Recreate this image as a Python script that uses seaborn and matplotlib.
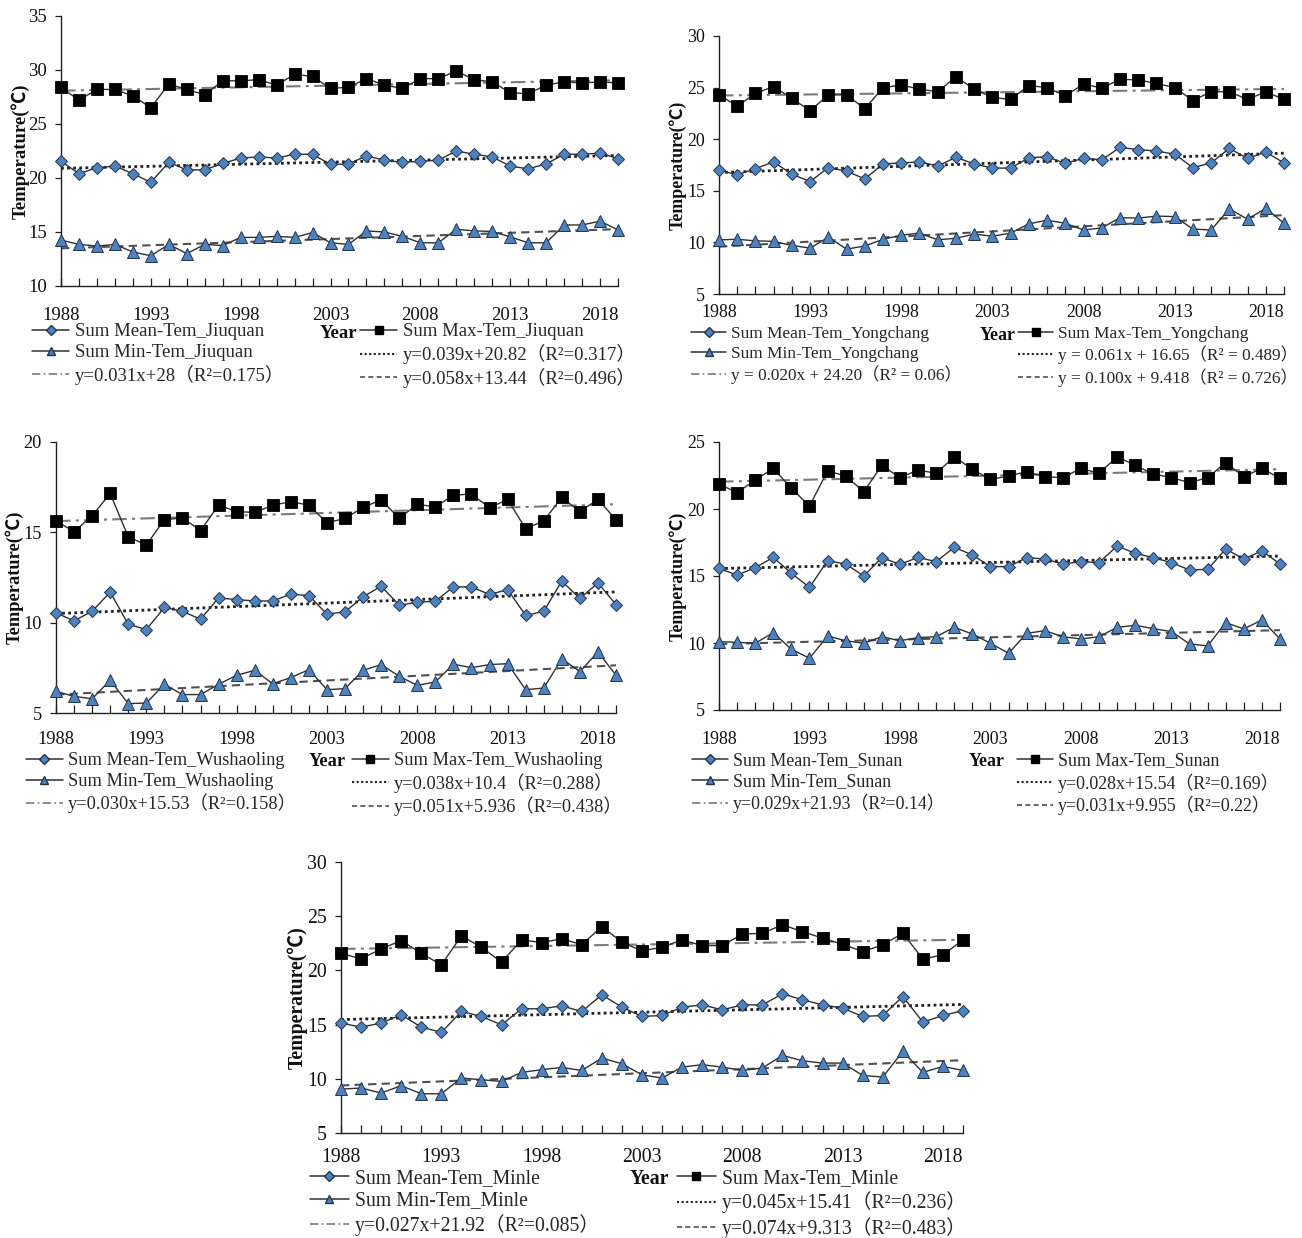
import matplotlib
matplotlib.use("Agg")
import matplotlib.pyplot as plt
import seaborn as sns
import numpy as np
from matplotlib.lines import Line2D

# ---------------- data ----------------
years = list(range(1988, 2020))
tick_years = [1988, 1993, 1998, 2003, 2008, 2013, 2018]

stations = ["Jiuquan", "Yongchang", "Wushaoling", "Sunan", "Minle"]

jiuquan_max = [28.4, 27.2, 28.2, 28.2, 27.6, 26.5, 28.7, 28.2, 27.7, 29.0, 29.0, 29.1, 28.6, 29.6, 29.4, 28.3,
               28.4, 29.2, 28.6, 28.3, 29.2, 29.2, 29.9, 29.1, 28.9, 27.9, 27.8, 28.6, 28.9, 28.8, 28.9, 28.8]
jiuquan_mean = [21.55, 20.4, 20.95, 21.1, 20.4, 19.6, 21.45, 20.75, 20.75, 21.35, 21.85, 21.95, 21.85, 22.2, 22.2, 21.25,
                21.3, 22.05, 21.65, 21.45, 21.55, 21.65, 22.5, 22.2, 21.95, 21.1, 20.85, 21.3, 22.2, 22.2, 22.3, 21.8]
jiuquan_min = [14.25, 13.85, 13.7, 13.85, 13.15, 12.8, 13.85, 13.0, 13.85, 13.75, 14.5, 14.5, 14.6, 14.5, 14.95, 14.0,
               13.85, 15.1, 15.0, 14.6, 14.0, 14.0, 15.25, 15.1, 15.05, 14.55, 14.0, 14.0, 15.65, 15.65, 16.0, 15.2]

yongchang_max = [24.3, 23.2, 24.45, 25.1, 23.95, 22.75, 24.3, 24.3, 22.95, 25.0, 25.25, 24.85, 24.6, 26.05, 24.85, 24.05,
                 23.85, 25.2, 25.0, 24.2, 25.35, 24.95, 25.8, 25.75, 25.4, 25.0, 23.75, 24.6, 24.6, 23.85, 24.6, 23.85]
yongchang_mean = [17.0, 16.55, 17.15, 17.8, 16.6, 15.9, 17.25, 16.9, 16.15, 17.6, 17.7, 17.8, 17.4, 18.25, 17.6, 17.2,
                  17.2, 18.2, 18.3, 17.65, 18.15, 18.0, 19.2, 19.0, 18.85, 18.55, 17.25, 17.7, 19.1, 18.15, 18.75, 17.7]
yongchang_min = [10.25, 10.3, 10.15, 10.1, 9.7, 9.45, 10.5, 9.35, 9.65, 10.3, 10.7, 10.9, 10.25, 10.4, 10.8, 10.6,
                 10.9, 11.8, 12.15, 11.85, 11.2, 11.4, 12.4, 12.35, 12.55, 12.5, 11.3, 11.2, 13.25, 12.25, 13.3, 11.85]

wushaoling_max = [15.64, 15.03, 15.92, 17.15, 14.75, 14.3, 15.7, 15.8, 15.1, 16.5, 16.15, 16.1, 16.5, 16.7, 16.5, 15.53,
                  15.77, 16.38, 16.8, 15.77, 16.56, 16.4, 17.06, 17.12, 16.36, 16.82, 15.2, 15.64, 16.93, 16.15, 16.82, 15.7]
wushaoling_mean = [10.54, 10.1, 10.63, 11.69, 9.91, 9.62, 10.84, 10.63, 10.19, 11.37, 11.28, 11.2, 11.2, 11.58, 11.5, 10.47,
                   10.6, 11.43, 12.02, 10.97, 11.13, 11.19, 11.98, 11.98, 11.56, 11.83, 10.4, 10.63, 12.3, 11.34, 12.2, 11.0]
wushaoling_min = [6.2, 5.92, 5.79, 6.81, 5.52, 5.55, 6.59, 6.02, 6.02, 6.59, 7.09, 7.36, 6.62, 6.96, 7.4, 6.29,
                  6.35, 7.36, 7.68, 7.03, 6.53, 6.72, 7.7, 7.51, 7.68, 7.73, 6.29, 6.38, 8.0, 7.29, 8.38, 7.09]

sunan_max = [21.87, 21.22, 22.16, 23.03, 21.54, 20.22, 22.84, 22.46, 21.29, 23.26, 22.34, 22.91, 22.66, 23.9, 22.96, 22.21,
             22.46, 22.79, 22.41, 22.34, 23.03, 22.66, 23.9, 23.26, 22.61, 22.34, 21.97, 22.34, 23.46, 22.41, 23.03, 22.29]
sunan_mean = [15.57, 15.07, 15.62, 16.39, 15.2, 14.15, 16.14, 15.9, 15.0, 16.37, 15.87, 16.39, 16.07, 17.14, 16.57, 15.7,
              15.7, 16.37, 16.27, 15.9, 16.07, 16.0, 17.24, 16.69, 16.37, 16.0, 15.45, 15.5, 17.01, 16.27, 16.87, 15.9]
sunan_min = [10.1, 10.05, 9.98, 10.77, 9.53, 8.86, 10.52, 10.17, 9.98, 10.47, 10.17, 10.4, 10.47, 11.17, 10.67, 9.98,
             9.23, 10.72, 10.92, 10.47, 10.3, 10.47, 11.17, 11.32, 11.07, 10.85, 9.93, 9.78, 11.52, 11.05, 11.72, 10.3]

minle_max = [21.58, 21.06, 21.98, 22.75, 21.58, 20.51, 23.18, 22.14, 20.76, 22.81, 22.57, 22.91, 22.38, 24.04, 22.6, 21.8,
             22.14, 22.81, 22.29, 22.29, 23.34, 23.43, 24.2, 23.58, 22.97, 22.41, 21.74, 22.35, 23.43, 21.06, 21.43, 22.81]
minle_mean = [15.14, 14.77, 15.14, 15.9, 14.77, 14.28, 16.21, 15.75, 14.98, 16.46, 16.46, 16.73, 16.21, 17.75, 16.61, 15.75,
              15.84, 16.61, 16.82, 16.36, 16.82, 16.82, 17.84, 17.29, 16.82, 16.52, 15.75, 15.84, 17.59, 15.23, 15.84, 16.3]
minle_min = [9.05, 9.15, 8.69, 9.36, 8.62, 8.62, 10.07, 9.91, 9.76, 10.59, 10.84, 11.05, 10.77, 11.91, 11.39, 10.37,
             10.07, 11.08, 11.3, 11.08, 10.77, 10.99, 12.16, 11.66, 11.45, 11.45, 10.31, 10.16, 12.52, 10.59, 11.14, 10.77]

max_series = [jiuquan_max, yongchang_max, wushaoling_max, sunan_max, minle_max]
mean_series = [jiuquan_mean, yongchang_mean, wushaoling_mean, sunan_mean, minle_mean]
min_series = [jiuquan_min, yongchang_min, wushaoling_min, sunan_min, minle_min]

y_limits = [(10, 35), (5, 30), (5, 20), (5, 25), (5, 30)]

mean_eq = ["y=0.039x+20.82（R²=0.317）", "y = 0.061x + 16.65（R² = 0.489）", "y=0.038x+10.4（R²=0.288）",
           "y=0.028x+15.54（R²=0.169）", "y=0.045x+15.41（R²=0.236）"]
max_eq = ["y=0.031x+28（R²=0.175）", "y = 0.020x + 24.20（R² = 0.06）", "y=0.030x+15.53（R²=0.158）",
          "y=0.029x+21.93（R²=0.14）", "y=0.027x+21.92（R²=0.085）"]
min_eq = ["y=0.058x+13.44（R²=0.496）", "y = 0.100x + 9.418（R² = 0.726）", "y=0.051x+5.936（R²=0.438）",
          "y=0.031x+9.955（R²=0.22）", "y=0.074x+9.313（R²=0.483）"]

# ---------------- layout (pixels) ----------------
W, H = 1302, 1238
PX = 100 / 72.0
# left, right, top, bottom of each axes
axes_px = [(61, 618, 16, 286), (719, 1284, 36, 294), (56, 616, 442, 713),
           (719, 1280, 442, 710), (341, 963, 862, 1133)]
panel_fs = [13.5, 12.9, 13.2, 12.9, 14.2]
legend_fs = [13.5, 12.4, 13.2, 12.9, 14.2]
xtick_pad_pt = [15, 7, 13, 15, 11]
legend_text1_x = [75, 731, 68, 733, 355]
legend_text2_x = [403, 1058, 394, 1058, 722]
legend_row1_y = [333, 335, 762, 762, 1179]
year_label_x = [338, 998, 327, 987, 649]
ylabel_x = [20, 678, 15, 678, 298]

sns.set_theme(style="white")
plt.rcParams['font.family'] = ['Liberation Serif', 'Noto Sans CJK SC', 'DejaVu Sans']
plt.rcParams['axes.unicode_minus'] = False

BLUE = "#4F81BD"
EDGE = "#1F3550"
LINE = "#303030"
HL = 2.0
HTP = 0.3

fig = plt.figure(figsize=(W / 100, H / 100), dpi=100)
fig.patch.set_facecolor("white")

for i, st in enumerate(stations):
    fs = panel_fs[i]
    lfs = legend_fs[i]
    l, r, t, b = axes_px[i]
    ax = fig.add_axes([l / W, 1 - b / H, (r - l) / W, (b - t) / H])
    ax.set_facecolor("white")

    # trend lines (fitted by seaborn)
    sns.regplot(x=years, y=mean_series[i], ax=ax, scatter=False, ci=None, truncate=True,
                line_kws=dict(color="#202020", lw=2.0, ls=(0, (1, 1.2)), zorder=2))
    sns.regplot(x=years, y=max_series[i], ax=ax, scatter=False, ci=None, truncate=True,
                line_kws=dict(color="#7a7a7a", lw=1.5, ls=(0, (7, 2.5, 1.5, 2.5)), zorder=2))
    sns.regplot(x=years, y=min_series[i], ax=ax, scatter=False, ci=None, truncate=True,
                line_kws=dict(color="#505050", lw=1.5, ls=(0, (4, 2.5)), zorder=2))

    # data series
    sns.lineplot(x=years, y=max_series[i], ax=ax, color=LINE, lw=1.0, marker="s", markersize=8,
                 markerfacecolor="black", markeredgecolor="black", markeredgewidth=0.6,
                 clip_on=False, zorder=4)
    sns.lineplot(x=years, y=mean_series[i], ax=ax, color=LINE, lw=1.0, marker="D", markersize=6.3,
                 markerfacecolor=BLUE, markeredgecolor=EDGE, markeredgewidth=0.7,
                 clip_on=False, zorder=4)
    sns.lineplot(x=years, y=min_series[i], ax=ax, color=LINE, lw=1.0, marker="^", markersize=8,
                 markerfacecolor=BLUE, markeredgecolor=EDGE, markeredgewidth=0.7,
                 clip_on=False, zorder=4)

    ax.set_xlim(years[0], years[-1])
    lo, hi = y_limits[i]
    ax.set_ylim(lo, hi)
    ax.set_yticks(np.arange(lo, hi + 0.1, 5))
    ax.set_xticks(years)
    ax.set_xticklabels([str(y) if y in tick_years else "" for y in years])

    for s in ["top", "right"]:
        ax.spines[s].set_visible(False)
    for s in ["left", "bottom"]:
        ax.spines[s].set_color("#202020")
        ax.spines[s].set_linewidth(1.0)

    ax.tick_params(axis="x", direction="in", length=6, width=0.9, color="#202020",
                   labelsize=fs, pad=xtick_pad_pt[i], bottom=True)
    ax.tick_params(axis="y", direction="out", length=4, width=0.9, color="#202020",
                   labelsize=fs, pad=6, left=True)
    for lab in ax.get_xticklabels() + ax.get_yticklabels():
        lab.set_color("#111111")

    ax.set_ylabel("Temperature(℃)", fontsize=fs, fontweight="bold", color="#111111", va="center")
    ax.yaxis.set_label_coords(ylabel_x[i] / W, 1 - (t + b) / 2 / H, transform=fig.transFigure)

    ax.set_xlabel("Year", fontsize=fs, fontweight="bold", color="#111111", va="center")
    ax.xaxis.set_label_coords(year_label_x[i] / W, 1 - legend_row1_y[i] / H, transform=fig.transFigure)

    h_mean = Line2D([], [], color=LINE, lw=1.1, marker="D", markersize=5, markerfacecolor=BLUE,
                    markeredgecolor=EDGE)
    h_max = Line2D([], [], color=LINE, lw=1.1, marker="s", markersize=6, markerfacecolor="black",
                   markeredgecolor="black")
    h_min = Line2D([], [], color=LINE, lw=1.1, marker="^", markersize=5.5, markerfacecolor=BLUE,
                   markeredgecolor=EDGE)
    h_tmean = Line2D([], [], color="#202020", lw=1.5, ls=(0, (1, 1.2)))
    h_tmax = Line2D([], [], color="#7a7a7a", lw=1.2, ls=(0, (5, 2, 1, 2)))
    h_tmin = Line2D([], [], color="#505050", lw=1.2, ls=(0, (3, 2)))

    offset = (HL + HTP) * lfs * PX
    top_y = legend_row1_y[i] - 0.5 * lfs * PX * 1.05
    common = dict(frameon=False, fontsize=lfs, handlelength=HL, handletextpad=HTP,
                  labelspacing=0.2 * fs / lfs, borderpad=0, borderaxespad=0, loc="upper left",
                  bbox_transform=fig.transFigure)
    name = st
    leg1 = ax.legend([h_mean, h_min, h_tmax],
                     [f"Sum Mean-Tem_{name}", f"Sum Min-Tem_{name}", max_eq[i]],
                     bbox_to_anchor=((legend_text1_x[i] - offset) / W, 1 - top_y / H), **common)
    ax.add_artist(leg1)
    ax.legend([h_max, h_tmean, h_tmin],
              [f"Sum Max-Tem_{name}", mean_eq[i], min_eq[i]],
              bbox_to_anchor=((legend_text2_x[i] - offset) / W, 1 - top_y / H), **common)

fig.savefig("out.png", dpi=100, facecolor="white")
